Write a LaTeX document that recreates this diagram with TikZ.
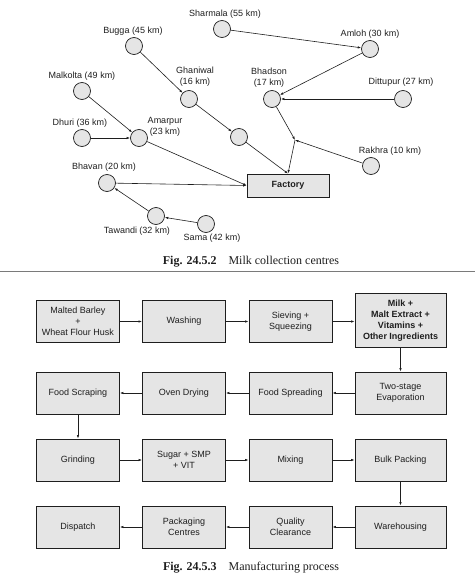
\documentclass[tikz,border=0pt]{standalone}
\usepackage{fontspec}
\setmainfont{Liberation Sans}
\newfontfamily\capfont{Liberation Serif}
\usepackage{xcolor}
\usepackage{tikz}
\usetikzlibrary{arrows.meta}
\definecolor{ink}{HTML}{1E1E1E}
\definecolor{shade}{HTML}{E5E5E5}
\definecolor{rule}{HTML}{7A7A7A}
\newcommand{\labsize}{\fontsize{9}{11}\selectfont}
\tikzset{
  hub/.style={circle, draw=ink, fill=shade, line width=0.7pt, minimum size=17pt, inner sep=0pt},
  lab/.style={text=ink, font=\labsize, align=center, inner sep=0pt},
  link/.style={-{Latex[length=3.5pt,width=2.4pt]}, line width=0.6pt, draw=ink},
  stagebox/.style={rectangle, draw=ink, fill=shade, line width=0.8pt, minimum width=83pt, minimum height=42pt,
    inner sep=1pt, font=\labsize, align=center, text=ink},
  figcap/.style={font=\capfont\fontsize{12}{14}\selectfont, text=ink, inner sep=0pt}
}

\begin{document}
\begin{tikzpicture}[x=1pt, y=-1pt]
  \useasboundingbox (0,0) rectangle (475,575);

  % collection centres
  \node[hub] (sharmala) at (222,29) {};
  \node[hub] (amloh) at (370,49) {};
  \node[hub] (bugga) at (134,46) {};
  \node[hub] (ghaniwal) at (189,99) {};
  \node[hub] (mid) at (239,137) {};
  \node[hub] (malkolta) at (82,91) {};
  \node[hub] (dhuri) at (82,138) {};
  \node[hub] (amarpur) at (139,138) {};
  \node[hub] (bhavan) at (107,183) {};
  \node[hub] (tawandi) at (156,216) {};
  \node[hub] (sama) at (206,224) {};
  \node[hub] (bhadson) at (272,99) {};
  \node[hub] (dittupur) at (403,99) {};
  \node[hub] (rakhra) at (371,166) {};
  \coordinate (meet) at (295,140);
  \node[rectangle, draw=ink, fill=shade, line width=0.8pt, minimum width=82pt, minimum height=23pt,
    font=\labsize\bfseries, text=ink] (factory) at (288,185.5) {Factory};

  % labels
  \node[lab] (sharmalaL) at (225,14) {Sharmala (55 km)};
  \node[lab] (amlohL) at (370,34) {Amloh (30 km)};
  \node[lab] (buggaL) at (133,31) {Bugga (45 km)};
  \node[lab] (ghaniwalL) at (195,77) {Ghaniwal\\(16 km)};
  \node[lab] (malkoltaL) at (82,76) {Malkolta (49 km)};
  \node[lab] (dhuriL) at (80,123) {Dhuri (36 km)};
  \node[lab] (amarpurL) at (165,127) {Amarpur\\(23 km)};
  \node[lab] (bhavanL) at (104,167) {Bhavan (20 km)};
  \node[lab] (tawandiL) at (137,231) {Tawandi (32 km)};
  \node[lab] (samaL) at (212,238) {Sama (42 km)};
  \node[lab] (bhadsonL) at (269,78) {Bhadson\\(17 km)};
  \node[lab] (dittupurL) at (401,82) {Dittupur (27 km)};
  \node[lab] (rakhraL) at (390,151) {Rakhra (10 km)};

  % routes
  \draw[link] (sharmala) -- (amloh);
  \draw[link] (amloh) -- (bhadson);
  \draw[link] (dittupur) -- (bhadson);
  \draw[link] (bhadson) -- (meet);
  \draw[link] (rakhra) -- (meet);
  \draw[link] (meet) -- (factory.north);
  \draw[link] (bugga) -- (ghaniwal);
  \draw[link] (ghaniwal) -- (mid);
  \draw[link] (mid) -- (factory.north);
  \draw[link] (malkolta) -- (amarpur);
  \draw[link] (dhuri) -- (amarpur);
  \draw[link] (amarpur) -- (factory.west);
  \draw[link] (bhavan) -- (factory.west);
  \draw[link] (tawandi) -- (bhavan);
  \draw[link] (sama) -- (tawandi);

  \node[figcap] (capA) at (251,262) {\textbf{Fig. 24.5.2}\quad Milk collection centres};
  \draw[rule, line width=1pt] (0,271) -- (475,271);

  % process boxes
  \node[stagebox] (barley) at (78,321.5) {Malted Barley\\+\\Wheat Flour Husk};
  \node[stagebox] (washing) at (184,321.5) {Washing};
  \node[stagebox] (sieving) at (290.5,321.5) {Sieving +\\Squeezing};
  \node[stagebox, minimum width=91pt, minimum height=54pt, font=\labsize\bfseries] (milk) at (400.5,320.5)
    {Milk +\\Malt Extract +\\Vitamins +\\Other Ingredients};
  \node[stagebox] (scraping) at (78,393) {Food Scraping};
  \node[stagebox] (oven) at (184,393) {Oven Drying};
  \node[stagebox] (spreading) at (290.5,393) {Food Spreading};
  \node[stagebox, minimum width=91pt] (evap) at (400.5,393) {Two-stage\\Evaporation};
  \node[stagebox] (grinding) at (78,460) {Grinding};
  \node[stagebox] (sugar) at (184,460) {Sugar + SMP\\+ VIT};
  \node[stagebox] (mixing) at (290.5,460) {Mixing};
  \node[stagebox, minimum width=91pt] (bulk) at (400.5,460) {Bulk Packing};
  \node[stagebox] (dispatch) at (78,527) {Dispatch};
  \node[stagebox] (packaging) at (184,527) {Packaging\\Centres};
  \node[stagebox] (quality) at (290.5,527) {Quality\\Clearance};
  \node[stagebox, minimum width=91pt] (ware) at (400.5,527) {Warehousing};

  % process flow
  \draw[link] (barley) -- (washing);
  \draw[link] (washing) -- (sieving);
  \draw[link] (sieving.east) -- (sieving.east -| milk.west);
  \draw[link] (milk) -- (evap);
  \draw[link] (evap) -- (spreading);
  \draw[link] (spreading) -- (oven);
  \draw[link] (oven) -- (scraping);
  \draw[link] (scraping) -- (grinding);
  \draw[link] (grinding) -- (sugar);
  \draw[link] (sugar) -- (mixing);
  \draw[link] (mixing) -- (bulk);
  \draw[link] (bulk) -- (ware);
  \draw[link] (ware) -- (quality);
  \draw[link] (quality) -- (packaging);
  \draw[link] (packaging) -- (dispatch);

  \node[figcap] (capB) at (251,567.5) {\textbf{Fig. 24.5.3}\quad Manufacturing process};
\end{tikzpicture}
\end{document}
